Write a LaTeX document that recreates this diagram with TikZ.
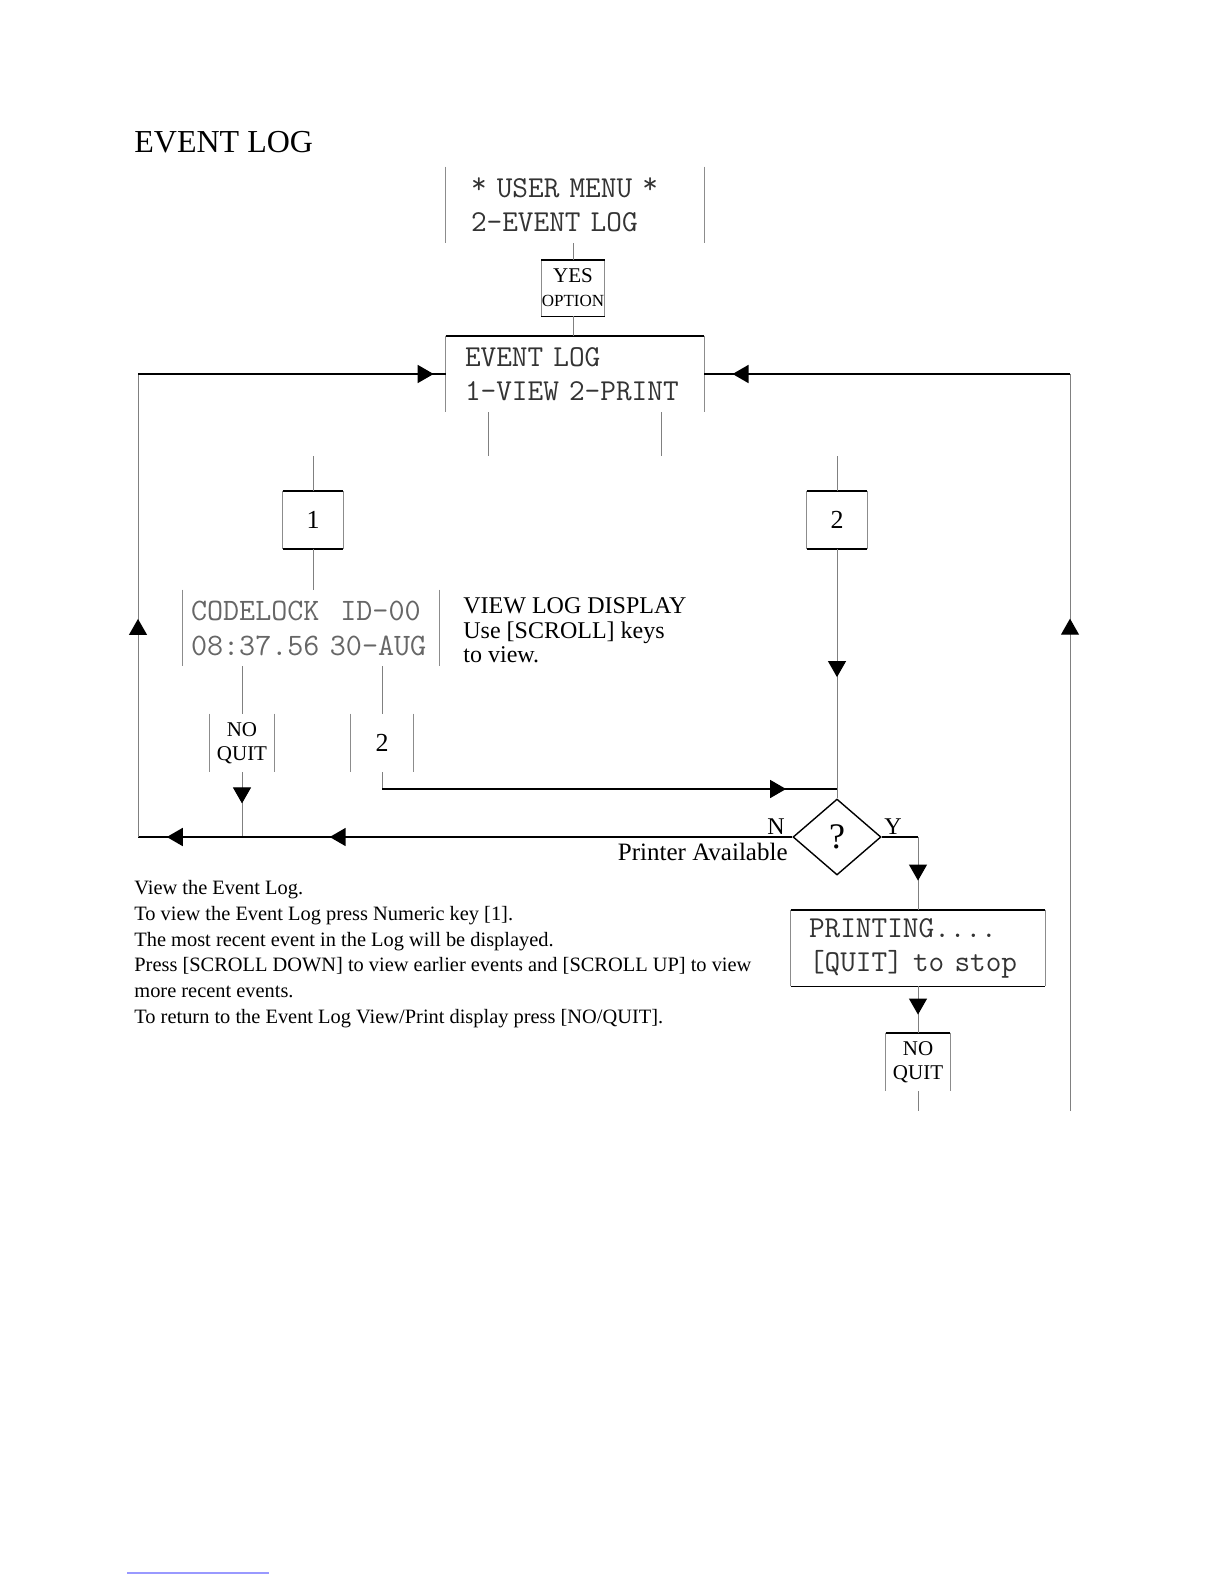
\documentclass[tikz,border=0pt]{standalone}
\usepackage{fontspec}
\setmainfont{Liberation Serif}
\usetikzlibrary{shapes.geometric,arrows.meta,decorations.markings,positioning}

\begin{document}
\begin{tikzpicture}[x=0.5pt,y=-0.5pt]
\tikzset{
  sidestroke/.style={draw=black!45, line width=0.5pt},
  rimstroke/.style={draw=black, line width=0.9pt},
  sides/.style={append after command={
      (\tikzlastnode.north west) edge[sidestroke] (\tikzlastnode.south west)
      (\tikzlastnode.north east) edge[sidestroke] (\tikzlastnode.south east)}},
  topline/.style={append after command={
      (\tikzlastnode.north west) edge[rimstroke] (\tikzlastnode.north east)}},
  botline/.style={append after command={
      (\tikzlastnode.south west) edge[rimstroke] (\tikzlastnode.south east)}},
  lcd/.style={font=\ttfamily\fontsize{15.2}{17}\selectfont, text=black!80,
      align=left, minimum height=38pt, inner ysep=0pt, sides},
  keybox/.style={font=\fontsize{13}{15}\selectfont, minimum width=30pt,
      minimum height=28.5pt, inner sep=0pt, sides},
  quitbox/.style={font=\fontsize{10.5}{12}\selectfont, align=center,
      minimum width=32pt, minimum height=29pt, inner sep=0pt, sides},
  wire/.style={draw=black, line width=0.9pt},
  feed/.style={draw=black!50, line width=0.5pt},
  tip at/.style={decoration={markings,
      mark=at position #1 with {\arrow{Triangle[length=8pt,width=9pt,color=black]}}},
      postaction={decorate}},
  tips at/.style 2 args={decoration={markings,
      mark=at position #1 with {\arrow{Triangle[length=8pt,width=9pt,color=black]}},
      mark=at position #2 with {\arrow{Triangle[length=8pt,width=9pt,color=black]}}},
      postaction={decorate}},
}
\useasboundingbox (0,0) rectangle (1224,1584);

\node[font=\fontsize{16}{19}\selectfont, anchor=base west, inner sep=0pt] (title) at (134,152) {EVENT LOG};

% menu chain
\node[lcd, text width=104pt, inner xsep=12.5pt] (umenu) at (575,205)
  {\raisebox{2pt}{*} USER MENU \raisebox{2pt}{*}\\2-EVENT LOG};
\node[sides, topline, botline, align=center, minimum width=31.5pt, minimum height=28pt, inner sep=0pt] (yes) at (573,288)
  {\fontsize{10.5}{10}\selectfont YES\\\fontsize{8.5}{9.5}\selectfont OPTION};
\node[lcd, topline, text width=110pt, inner xsep=9.5pt] (evlog) at (575,374) {EVENT LOG\\1-VIEW 2-PRINT};

\draw[feed] (umenu.south -| yes.north) -- (yes.north);
\draw[feed] (yes.south) -- (yes.south |- evlog.north);

\coordinate (s1) at (488,456);
\coordinate (s2) at (661,456);
\draw[feed] (evlog.south -| s1) -- (s1);
\draw[feed] (evlog.south -| s2) -- (s2);

% view branch
\node[keybox, topline, botline] (key1) at (313,520) {1};
\node[keybox, topline, botline] (key2) at (837,520) {2};
\coordinate (k1top) at (313,456);
\coordinate (k2top) at (837,456);
\draw[feed] (k1top) -- (key1.north);
\draw[feed] (k2top) -- (key2.north);

\node[lcd, text=black!60, font=\ttfamily\fontsize{15.6}{17.5}\selectfont, text width=120pt, inner xsep=4.25pt] (codelock) at (311,628)
  {CODELOCK\ \ ID-00\\08:37.56 30-AUG};
\draw[feed] (key1.south) -- (key1.south |- codelock.north);
\node[anchor=north west, inner sep=0pt, align=left, font=\fontsize{12}{12.4}\selectfont] (viewtxt) at (463,597)
  {VIEW LOG DISPLAY\\Use [SCROLL] keys\\to view.};

\node[quitbox] (noq1) at (242,743) {NO\\QUIT};
\node[keybox, minimum width=31.5pt, minimum height=29pt] (key2b) at (382,743) {2};
\draw[feed] (codelock.south -| noq1.north) -- (noq1.north);
\draw[feed] (codelock.south -| key2b.north) -- (key2b.north);

% print branch
\node[diamond, draw, line width=0.7pt, minimum width=44pt, minimum height=38pt, inner sep=0pt,
  font=\fontsize{18}{20}\selectfont] (dq) at (837,837) {?};
\node[font=\fontsize{12}{14}\selectfont, anchor=base] (nlab) at (776,834) {N};
\node[font=\fontsize{12}{14}\selectfont, anchor=base] (ylab) at (893,834) {Y};
\node[font=\fontsize{12.5}{14}\selectfont, anchor=base east, inner sep=0pt] (avail) at (788,860) {Printer Available};

\coordinate (join) at (837,789);
\draw[feed, tip at=0.514] (key2.south) -- (dq.north);
\draw[feed] (key2b.south) -- (key2b.south |- join);
\draw[wire, tip at=0.888] (key2b.south |- join) -- (join);
\draw[feed, tip at=0.48] (noq1.south) -- (noq1.south |- dq.west);

\node[lcd, topline, botline, text width=109pt, inner xsep=9pt] (print) at (918,948) {PRINTING....\\{}[QUIT] to stop};
\node[quitbox, topline] (noq2) at (918,1062) {NO\\QUIT};
\coordinate (yc) at (918,837);
\draw[wire] (dq.east) -- (yc);
\draw[feed, tip at=0.6] (yc) -- (print.north);
\draw[feed, tip at=0.61] (print.south) -- (noq2.north);
\coordinate (n2end) at (918,1111);
\draw[feed] (noq2.south) -- (n2end);

% return loops
\coordinate (bl) at (138,837);
\coordinate (tl) at (138,374);
\draw[wire, tips at={0.707}{0.956}] (dq.west) -- (bl);
\draw[feed, tip at=0.471] (bl) -- (tl);
\draw[wire, tip at=0.961] (tl) -- (evlog.west);
\coordinate (br) at (1070,1111);
\coordinate (tr) at (1070,374);
\draw[feed, tip at=0.668] (br) -- (tr);
\draw[wire, tip at=0.923] (tr) -- (evlog.east);

\node[anchor=north west, inner sep=0pt, align=left, font=\fontsize{10.2}{12.9}\selectfont] (help) at (134,880)
  {View the Event Log.\\
   To view the Event Log press Numeric key [1].\\
   The most recent event in the Log will be displayed.\\
   Press [SCROLL DOWN] to view earlier events and [SCROLL UP] to view\\
   more recent events.\\
   To return to the Event Log View/Print display press [NO/QUIT].};

\draw[blue!40, line width=0.6pt] (127,1573) -- (269,1573);
\end{tikzpicture}
\end{document}
